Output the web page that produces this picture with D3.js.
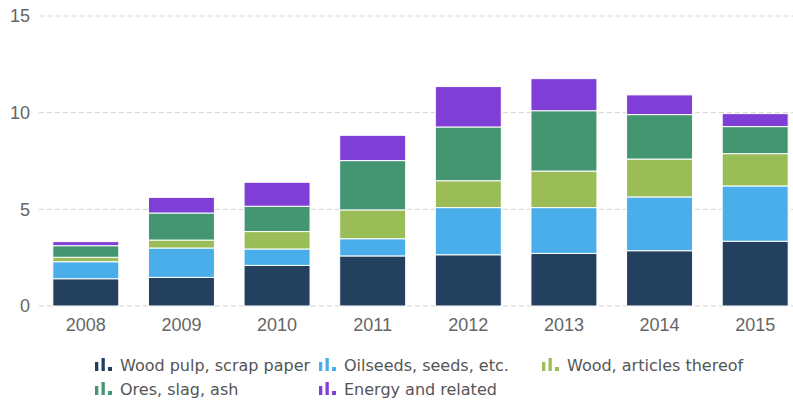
<!DOCTYPE html>
<html>
<head>
<meta charset="utf-8">
<script src="https://cdn.jsdelivr.net/npm/d3@7"></script>
<style>
  html, body { margin: 0; padding: 0; background: #fff; }
  svg { display: block; }
</style>
</head>
<body>
<svg id="chart" width="793" height="403"></svg>
<script>
const years = ["2008", "2009", "2010", "2011", "2012", "2013", "2014", "2015"];
const seriesNames = ["Wood pulp, scrap paper", "Oilseeds, seeds, etc.", "Wood, articles thereof", "Ores, slag, ash", "Energy and related"];
const woodPulp = [1.41, 1.48, 2.10, 2.59, 2.65, 2.72, 2.86, 3.35];
const oilseeds = [0.88, 1.52, 0.85, 0.89, 2.44, 2.37, 2.78, 2.86];
const woodArticles = [0.23, 0.41, 0.90, 1.49, 1.39, 1.89, 1.96, 1.67];
const ores = [0.60, 1.40, 1.31, 2.55, 2.78, 3.12, 2.30, 1.40];
const energy = [0.21, 0.81, 1.24, 1.31, 2.09, 1.66, 1.02, 0.67];
const yTicks = [0, 5, 10, 15];
const colors = ["#24405f", "#4aaeea", "#9bbd57", "#449673", "#7f3fd6"];

const seriesValues = [woodPulp, oilseeds, woodArticles, ores, energy];
const table = years.map((y, i) => {
  const row = { year: y };
  seriesNames.forEach((s, k) => { row[s] = seriesValues[k][i]; });
  return row;
});

const svg = d3.select("#chart");
const x = d3.scaleBand().domain(years).range([38, 803]).paddingInner(0.31).paddingOuter(0.155);
const y = d3.scaleLinear().domain([0, 15]).range([306, 16]);

// gridlines
svg.append("g").selectAll("line").data(yTicks).join("line")
  .attr("x1", 39).attr("x2", 793)
  .attr("y1", d => y(d)).attr("y2", d => y(d))
  .attr("stroke", "#d4d4d4").attr("stroke-width", 1)
  .attr("stroke-dasharray", "5,3");

// y axis labels
const yAxis = d3.axisLeft(y).tickValues(yTicks).tickSize(0).tickPadding(0);
const gy = svg.append("g").attr("transform", "translate(30,0)").call(yAxis);
gy.select(".domain").remove();
gy.selectAll("text").attr("font-family", "Liberation Sans").attr("font-size", 18).attr("fill", "#666");

// x axis labels
const xAxis = d3.axisBottom(x).tickSize(0).tickPadding(12);
const gx = svg.append("g").attr("transform", "translate(0,306)").call(xAxis);
gx.select(".domain").remove();
gx.selectAll("text").attr("font-family", "Liberation Sans").attr("font-size", 18).attr("fill", "#666");

// stacked bars
const stack = d3.stack().keys(seriesNames)(table);
svg.append("g").selectAll("g").data(stack).join("g")
  .attr("fill", (d, i) => colors[i])
  .selectAll("rect").data(d => d).join("rect")
  .attr("x", d => x(d.data.year))
  .attr("width", x.bandwidth())
  .attr("y", d => y(d[1]))
  .attr("height", d => y(d[0]) - y(d[1]))
  .attr("stroke", "#fff").attr("stroke-width", 1);

// legend
const legendPos = [[95, 371], [319, 371], [542, 371], [95, 395], [319, 395]];
const lg = svg.append("g").selectAll("g").data(seriesNames).join("g")
  .attr("transform", (d, i) => `translate(${legendPos[i][0]},${legendPos[i][1]})`);
const iconBars = [[0, 3.3, 9], [6.5, 3.3, 13], [13, 4, 4]];
lg.each(function(d, i) {
  const g = d3.select(this);
  iconBars.forEach(b => {
    g.append("rect").attr("x", b[0]).attr("y", -b[2]).attr("width", b[1]).attr("height", b[2]).attr("fill", colors[i]);
  });
  g.append("text").attr("x", 25).attr("y", 0)
    .attr("font-family", "DejaVu Sans").attr("font-size", 16).attr("fill", "#555")
    .text(d);
});
</script>
</body>
</html>
